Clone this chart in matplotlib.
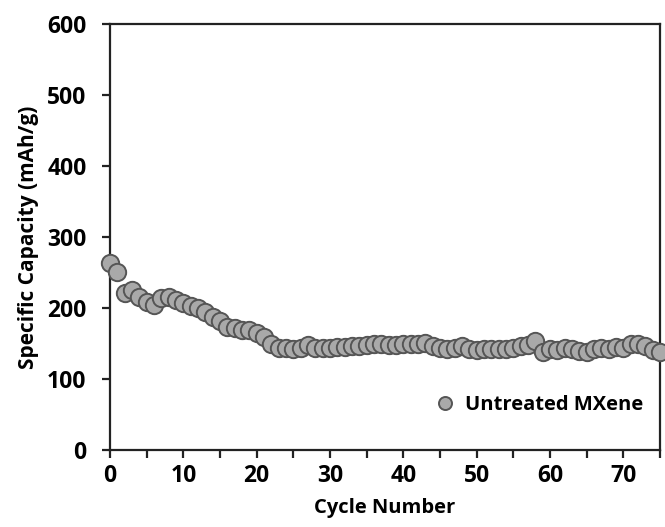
import matplotlib
matplotlib.use("Agg")
import matplotlib.pyplot as plt

cycles = list(range(0, 76))
capacity = [263, 251, 221, 225, 215, 209, 204, 214, 216, 211,
            207, 203, 200, 195, 188, 182, 173, 172, 169, 169,
            165, 159, 150, 144, 144, 143, 144, 148, 144, 144,
            144, 145, 145, 146, 147, 148, 149, 149, 148, 148,
            149, 150, 150, 151, 147, 144, 142, 144, 146, 143,
            141, 142, 142, 142, 143, 144, 146, 148, 153, 138,
            143, 141, 144, 143, 139, 138, 143, 144, 143, 145,
            144, 149, 149, 147, 141, 138]
series_label = "Untreated MXene"
x_ticks = [0, 10, 20, 30, 40, 50, 60, 70]
y_ticks = [0, 100, 200, 300, 400, 500, 600]

plt.rcParams['font.family'] = ['Open Sans', 'DejaVu Sans']
plt.rcParams['font.weight'] = 'bold'

fig = plt.figure(figsize=(6.65, 5.27), dpi=100)
ax = fig.add_axes([0.1654, 0.146, 0.8271, 0.808])

ax.plot(cycles, capacity, linestyle='none', marker='o', markersize=12.5,
        markerfacecolor='#a9a9a9', markeredgecolor='#555555', markeredgewidth=1.4,
        label=series_label, clip_on=False, zorder=3)

ax.set_xlim(0, 75)
ax.set_ylim(0, 600)
ax.set_xticks(x_ticks)
ax.set_xticks(range(5, 76, 10), minor=True)
ax.set_yticks(y_ticks)

for s in ax.spines.values():
    s.set_linewidth(1.6)
    s.set_color('#222222')

ax.tick_params(axis='both', which='major', direction='out', length=6, width=1.6,
               color='#222222')
ax.tick_params(axis='y', which='major', pad=11)
ax.tick_params(axis='x', which='major', pad=4)
ax.tick_params(axis='x', which='minor', direction='out', length=6, width=1.6, color='#222222')
for lab in ax.get_xticklabels() + ax.get_yticklabels():
    lab.set_fontweight('bold')
    lab.set_fontsize(16.5)

ax.set_xlabel("Cycle Number", fontsize=14.5, fontweight='bold', labelpad=7)
ax.set_ylabel("Specific Capacity (mAh/g)", fontsize=15, fontweight='bold', labelpad=6)

leg = ax.legend(loc='lower right', bbox_to_anchor=(0.995, 0.05), frameon=False,
                fontsize=14.5, handletextpad=0.0, markerscale=0.75, borderaxespad=0.3)
for t in leg.get_texts():
    t.set_fontweight('bold')

fig.savefig("out.png", dpi=100)
